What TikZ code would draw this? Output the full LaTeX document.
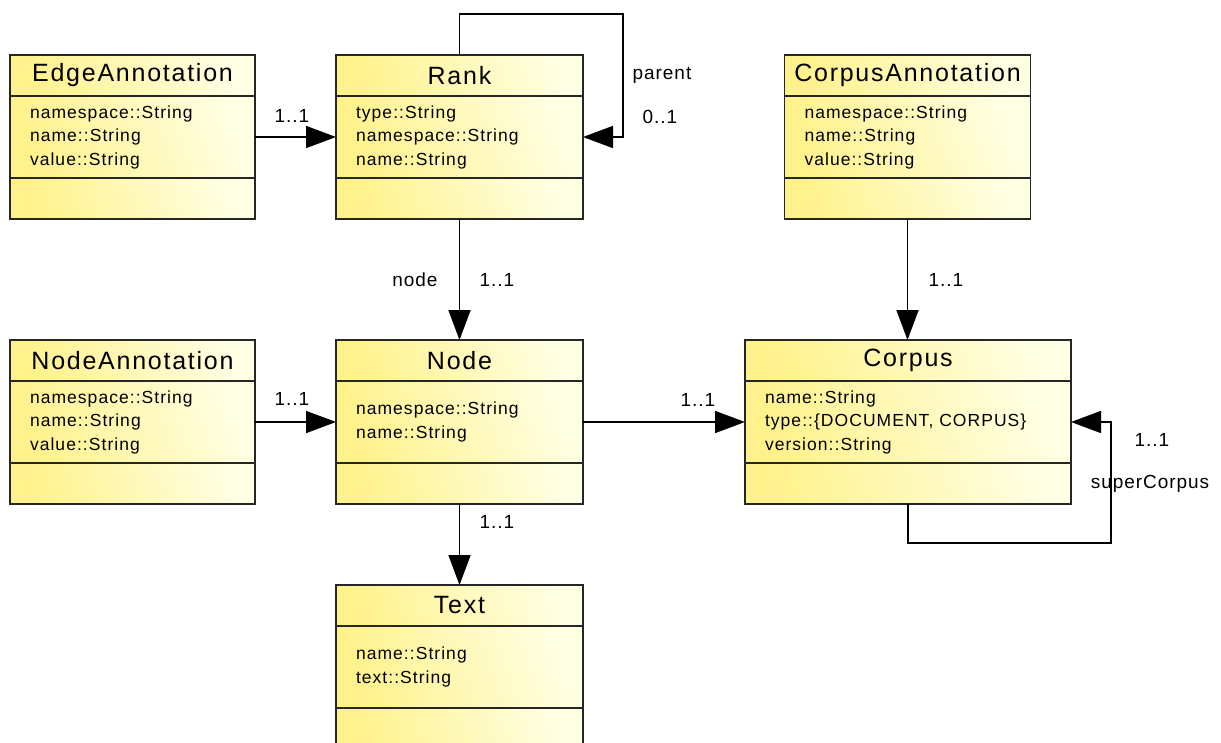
\documentclass[tikz,border=0pt]{standalone}
\usepackage{fontspec}
\setmainfont{Liberation Sans}
\usetikzlibrary{positioning,arrows.meta}
\definecolor{clsyellow}{RGB}{255,242,140}
\definecolor{clslight}{RGB}{255,255,228}
\tikzset{
  cls/.style={draw=black!85, line width=1.6pt, left color=clsyellow, right color=clslight, shading angle=110, inner sep=0pt, outer sep=0pt},
  clshead/.style={cls, minimum height=41pt, font=\fontsize{25}{28}\selectfont\addfontfeature{LetterSpace=7}},
  clsattr/.style={cls, minimum height=82pt, align=left, inner xsep=20pt, font=\fontsize{17.5}{23.5}\selectfont\addfontfeature{LetterSpace=6}},
  clsops/.style={cls, minimum height=41pt},
  assoc/.style={line width=1.6pt, -{Triangle[length=30pt,width=22pt]}},
  mult/.style={inner sep=1pt, font=\fontsize{19}{22}\selectfont\addfontfeature{LetterSpace=5}}
}
\begin{document}
\begin{tikzpicture}[x=1pt,y=-1pt]
\useasboundingbox[fill=white] (0,0) rectangle (1221,742);

% top row
\node[clshead, minimum width=245pt] (edgeH) at (132.5,75.5) {EdgeAnnotation};
\node[clsattr, text width=205pt, below=0pt of edgeH] (edgeA) {namespace::String\\name::String\\value::String};
\node[clsops, minimum width=245pt, below=0pt of edgeA] (edgeO) {};

\node[clshead, minimum width=247pt] (rankH) at (459.5,75.5) {Rank};
\node[clsattr, text width=207pt, below=0pt of rankH] (rankA) {type::String\\namespace::String\\name::String};
\node[clsops, minimum width=247pt, below=0pt of rankA] (rankO) {};

\node[clshead, minimum width=246pt] (corpAnnH) at (907.5,75.5) {CorpusAnnotation};
\node[clsattr, text width=206pt, below=0pt of corpAnnH] (corpAnnA) {namespace::String\\name::String\\value::String};
\node[clsops, minimum width=246pt, below=0pt of corpAnnA] (corpAnnO) {};

% middle row
\node[clshead, minimum width=245pt] (nodeAnnH) at (132.5,360.5) {NodeAnnotation};
\node[clsattr, text width=205pt, below=0pt of nodeAnnH] (nodeAnnA) {namespace::String\\name::String\\value::String};
\node[clsops, minimum width=245pt, below=0pt of nodeAnnA] (nodeAnnO) {};

\node[clshead, minimum width=247pt] (nodeH) at (459.5,360.5) {Node};
\node[clsattr, text width=207pt, below=0pt of nodeH] (nodeA) {namespace::String\\name::String};
\node[clsops, minimum width=247pt, below=0pt of nodeA] (nodeO) {};

\node[clshead, minimum width=326pt] (corpH) at (908,360.5) {Corpus};
\node[clsattr, text width=286pt, below=0pt of corpH] (corpA) {name::String\\type::\{DOCUMENT, CORPUS\}\\version::String};
\node[clsops, minimum width=326pt, below=0pt of corpA] (corpO) {};

% bottom
\node[clshead, minimum width=247pt] (textH) at (459.5,605.5) {Text};
\node[clsattr, text width=207pt, below=0pt of textH] (textA) {name::String\\text::String};
\node[clsops, minimum width=247pt, below=0pt of textA] (textO) {};

% associations
\coordinate (rankLoop) at (623,14);
\coordinate (corpLoop) at (1111,543);
\draw[assoc] (edgeA) -- (rankA);
\draw[assoc] (rankH.north) |- (rankLoop) |- (rankA.east);
\draw[assoc] (rankO) -- (nodeH);
\draw[assoc] (corpAnnO) -- (corpAnnO |- corpH.north);
\draw[assoc] (nodeAnnA) -- (nodeA);
\draw[assoc] (nodeA) -- (corpA);
\draw[assoc] (corpO.south) |- (corpLoop) |- (corpA.east);
\draw[assoc] (nodeO) -- (textH);

% multiplicities and roles
\node[mult] (mEdge) at (292,116) {1..1};
\node[mult] (mParent) at (662,75) {parent};
\node[mult] (mParentM) at (660,117) {0..1};
\node[mult] (mRankRole) at (415,280) {node};
\node[mult] (mRank) at (497,280) {1..1};
\node[mult] (mCorpAnn) at (946,280) {1..1};
\node[mult] (mNodeAnn) at (292,399) {1..1};
\node[mult] (mCorp) at (698,400) {1..1};
\node[mult] (mSuper) at (1152,440) {1..1};
\node[mult] (mSuperRole) at (1150,484) {superCorpus};
\node[mult] (mText) at (497,522) {1..1};
\end{tikzpicture}
\end{document}
